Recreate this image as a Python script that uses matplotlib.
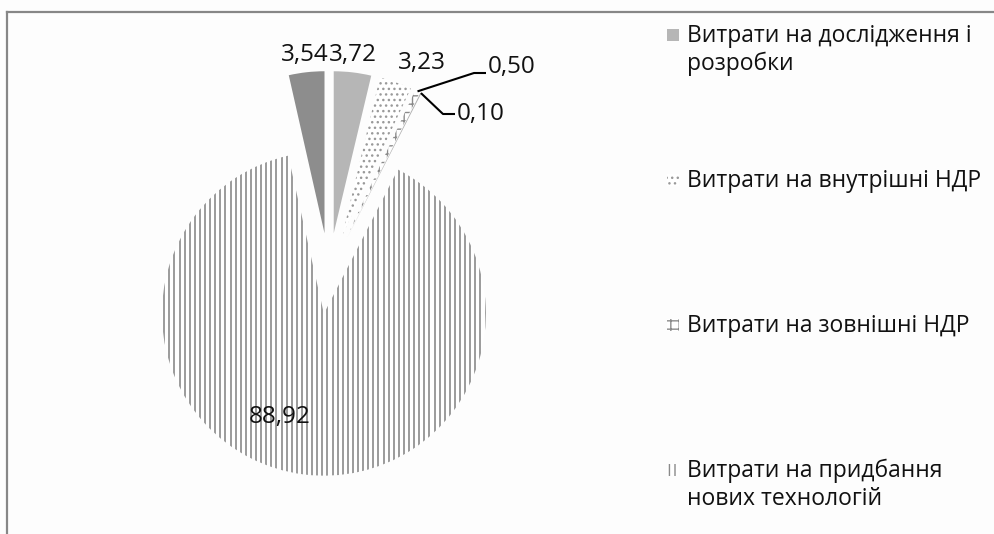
import matplotlib
matplotlib.use('Agg')
import matplotlib.pyplot as plt
from matplotlib.patches import Rectangle
from matplotlib.lines import Line2D
import numpy as np

# ---------------- data ----------------
values = [3.72, 3.23, 0.50, 0.10, 88.92, 3.54]
value_labels = ['3,72', '3,23', '0,50', '0,10', '88,92', '3,54']
legend_labels = ['Витрати на дослідження і\nрозробки',
                 'Витрати на внутрішні НДР',
                 'Витрати на зовнішні НДР',
                 'Витрати на придбання\nнових технологій']
legend_slices = [0, 1, 2, 4]

# ---------------- layout ----------------
W, H = 994, 534
R = 162.0                 # pie radius in pixels
CX, CY = 329.0, 273.5     # pie centre (pixels from top-left)
FONT = 'Open Sans'
plt.rcParams['font.family'] = [FONT, 'DejaVu Sans']

fig = plt.figure(figsize=(W / 100, H / 100), dpi=100)
fig.patch.set_facecolor('#fdfdfd')
ax = fig.add_axes([0, 0, 1, 1])

styles = [
    dict(facecolor='#b6b6b6'),
    dict(facecolor='white', hatch='...', edgecolor='#9a9a9a'),
    dict(facecolor='white', hatch='++', edgecolor='#8a8a8a'),
    dict(facecolor='#b0b0b0'),
    dict(facecolor='white'),
    dict(facecolor='#8d8d8d'),
]

wedges, _ = ax.pie(values, startangle=90, counterclock=False,
                   explode=[0.25] * len(values), radius=1.0,
                   wedgeprops=dict(linewidth=0))
for w, s in zip(wedges, styles):
    w.set(**s)
    w.set_linewidth(0)

ax.set_xlim(-CX / R, (W - CX) / R)
ax.set_ylim(-(H - CY) / R, CY / R)
ax.set_aspect('auto')
ax.axis('off')

# vertical line pattern for the large slice
big = wedges[4]
step = 5.1 / R
xs = np.arange(-1.3, 1.3, step)
vl = ax.vlines(xs, -2.5, 2.5, colors='#858585', linewidth=1.15)
vl.set_clip_path(big)


def px(x, y):
    return ((x - CX) / R, (CY - y) / R)


def outer_mid(w, frac=1.0):
    t = np.deg2rad((w.theta1 + w.theta2) / 2)
    cx, cy = w.center
    return cx + frac * w.r * np.cos(t), cy + frac * w.r * np.sin(t)


LABEL_FS = 17.5
# value labels
lab_pos = {0: (353, 55), 1: (422, 63), 4: (280, 417), 5: (305, 55)}
for i, (x, y) in lab_pos.items():
    ax.text(*px(x, y), value_labels[i], ha='center', va='center',
            fontsize=LABEL_FS, color='#111111')

# leader-line labels for tiny slices
leaders = {2: [(474, 73), (486, 73)], 3: [(443, 114), (455, 114)]}
lead_text = {2: (488, 67), 3: (457, 114)}
for i, pts in leaders.items():
    sx, sy = outer_mid(wedges[i])
    xs_l = [sx] + [px(*p)[0] for p in pts]
    ys_l = [sy] + [px(*p)[1] for p in pts]
    ax.plot(xs_l, ys_l, color='black', linewidth=1.5, solid_capstyle='butt')
    ax.text(*px(*lead_text[i]), value_labels[i], ha='left', va='center',
            fontsize=LABEL_FS, color='#111111')

# legend
leg_base = [42, 187, 332, 477]
line_gap = 28
for k, (lab, si) in enumerate(zip(legend_labels, legend_slices)):
    b = leg_base[k]
    for j, line in enumerate(lab.split('\n')):
        fig.text(687 / W, 1 - (b + j * line_gap) / H, line, ha='left',
                 va='baseline', fontsize=16.5, color='#111111')
    s = dict(styles[si])
    if si == 4:
        s = dict(facecolor='white', hatch='|||', edgecolor='#8a8a8a')
    rect = Rectangle((667 / W, 1 - (b - 1) / H), 12 / W, 12 / H,
                     transform=fig.transFigure, linewidth=0, **s)
    fig.add_artist(rect)

# chart-area border (top and left)
fig.add_artist(Line2D([7 / W, 1], [1 - 12 / H, 1 - 12 / H],
                      transform=fig.transFigure, color='#878787', linewidth=1.6))
fig.add_artist(Line2D([7 / W, 7 / W], [1 - 12 / H, 0],
                      transform=fig.transFigure, color='#878787', linewidth=1.6))

fig.savefig('out.png', dpi=100, facecolor=fig.get_facecolor())
